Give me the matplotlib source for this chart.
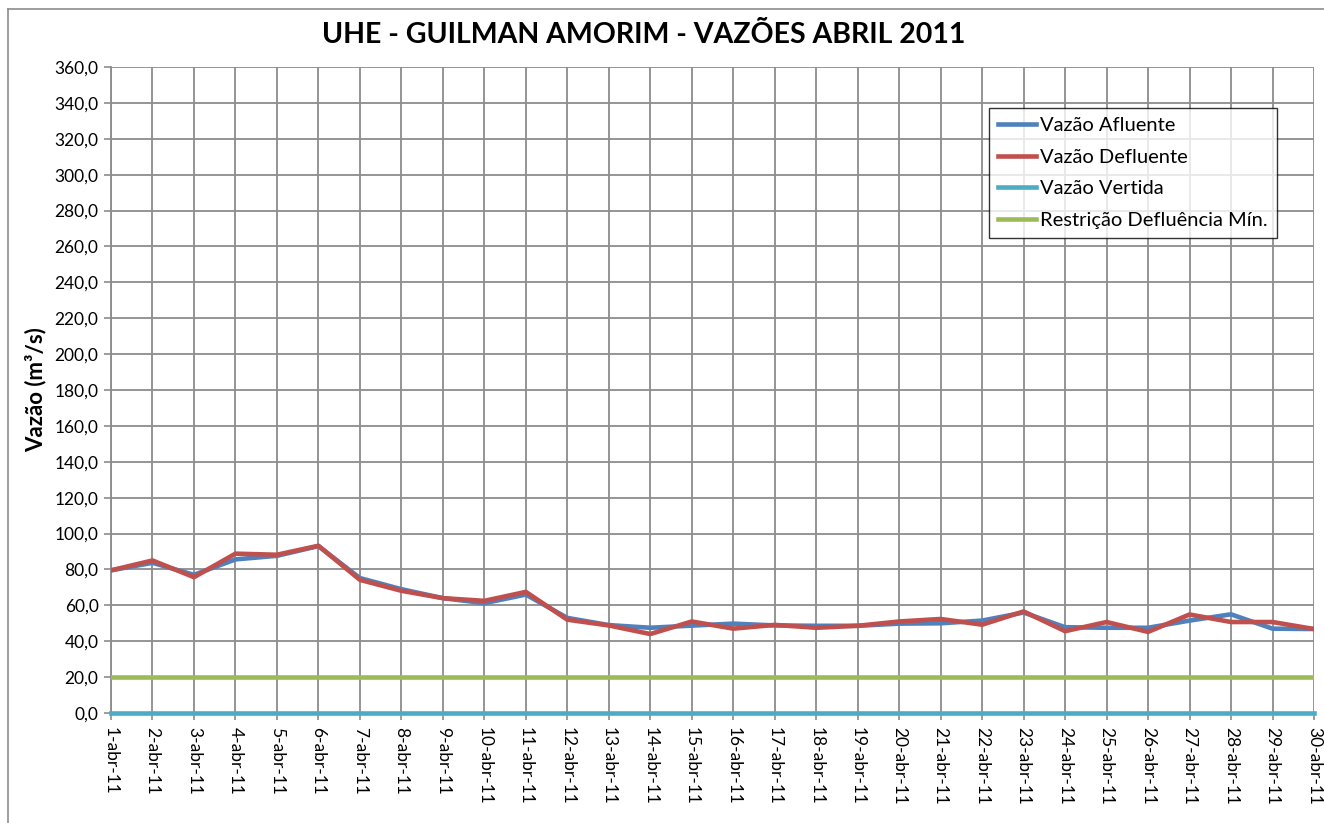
import matplotlib
matplotlib.use("Agg")
import matplotlib.pyplot as plt
from matplotlib.lines import Line2D

plt.rcParams['font.family'] = ['Lato', 'DejaVu Sans']

days = [f"{d}-abr-11" for d in range(1, 31)]
afluente = [79.5, 83.7, 77.0, 85.6, 87.6, 93.0, 75.2, 69.0, 64.0, 61.2,
            66.0, 53.0, 49.0, 47.5, 48.7, 49.8, 48.8, 48.6, 48.6, 49.8,
            50.0, 51.5, 56.0, 47.8, 47.5, 47.5, 51.5, 55.0, 47.0, 46.8]
defluente = [79.5, 85.0, 75.7, 88.8, 88.2, 93.2, 74.2, 68.1, 64.0, 62.5,
             67.5, 52.0, 48.8, 44.0, 51.0, 47.0, 49.1, 47.5, 48.6, 51.0,
             52.4, 49.2, 56.6, 45.6, 50.7, 45.2, 54.9, 50.7, 50.7, 46.8]
vertida = [0.0] * 30
restricao = [20.0] * 30
yticks = list(range(0, 361, 20))

W, H = 1324, 823
fig = plt.figure(figsize=(W / 100, H / 100), dpi=100)
ax = fig.add_axes([111 / W, 1 - 713 / H, (1314 - 111) / W, (713 - 67) / H])

x = list(range(len(days)))
lw = 3.3
ax.plot(x, afluente, color='#4F81BD', lw=lw, label='Vazão Afluente', solid_joinstyle='round', zorder=4)
ax.plot(x, defluente, color='#C0504D', lw=lw, label='Vazão Defluente', solid_joinstyle='round', zorder=5)
ax.plot(x, vertida, color='#4BACC6', lw=lw, label='Vazão Vertida', zorder=4, clip_on=False)
ax.plot(x, restricao, color='#9BBB59', lw=lw, label='Restrição Defluência Mín.', zorder=4)

ax.set_xlim(0, len(days) - 1)
ax.set_ylim(0, 360)
ax.set_yticks(yticks)
ax.set_yticklabels([f"{v:.1f}".replace('.', ',') for v in yticks], fontsize=12.5)
ax.set_xticks(x)
ax.set_xticklabels(days, rotation=270, fontsize=12.5, va='top', ha='center')
ax.grid(True, color='#8C8C8C', lw=1.3, zorder=1)
ax.set_axisbelow(True)
for s in ['top', 'right']:
    ax.spines[s].set_visible(False)
for s in ['left', 'bottom']:
    ax.spines[s].set_color('#8C8C8C')
    ax.spines[s].set_linewidth(1.3)
ax.tick_params(axis='both', direction='out', length=5, color='#8C8C8C', width=1.2)
ax.tick_params(axis='x', pad=5)
ax.tick_params(axis='y', pad=4)

ax.set_ylabel('Vazão (m³/s)', fontsize=16, fontweight='bold', labelpad=6)

fig.text(644 / W, 1 - 35 / H, 'UHE - GUILMAN AMORIM - VAZÕES ABRIL 2011',
         ha='center', va='center', fontsize=20.5, fontweight='bold')

leg = ax.legend(loc='upper right', bbox_to_anchor=((1277 - 111) / 1203, (713 - 108) / 646),
                borderaxespad=0, fontsize=14.5, frameon=True, fancybox=False,
                edgecolor='black', handlelength=1.9, handletextpad=0.2,
                labelspacing=0.72, borderpad=0.45)
leg.get_frame().set_linewidth(1.0)
leg.set_zorder(10)

fig.add_artist(Line2D([8 / W, 8 / W], [0, 1 - 9 / H], color='#8C8C8C', lw=1.2))
fig.add_artist(Line2D([8 / W, 1], [1 - 9 / H, 1 - 9 / H], color='#8C8C8C', lw=1.2))

fig.savefig('out.png', dpi=100, facecolor='white')
